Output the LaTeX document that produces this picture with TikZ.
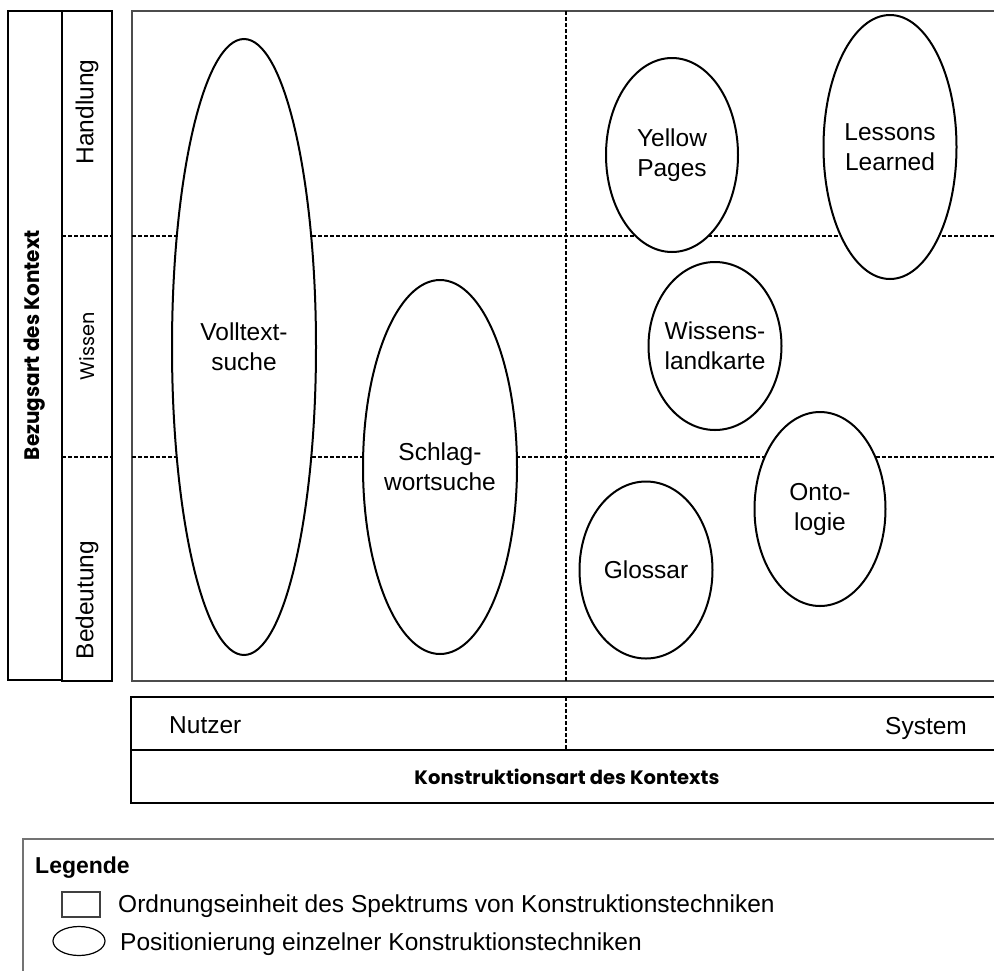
\documentclass[tikz,border=0pt]{standalone}
\usepackage{fontspec}
\usepackage{graphicx}
\setmainfont{Liberation Sans}
\newfontfamily\geo{Poppins}
\usetikzlibrary{shapes.geometric}
\begin{document}
\begin{tikzpicture}[x=1pt,y=-1pt,
  thickbox/.style={draw=black,line width=2pt},
  thinbox/.style={draw=black!70,line width=1.2pt},
  dashln/.style={draw=black,line width=2.6pt,dash pattern=on 4pt off 2pt},
  ell/.style={ellipse,draw=black,line width=2pt,fill=white,inner sep=0pt},
  lbl/.style={align=center,font=\fontsize{24.5}{30}\selectfont,inner sep=0pt},
  txt/.style={font=\fontsize{24.5}{30}\selectfont,inner sep=0pt},
]
\useasboundingbox (0,0) rectangle (994,970);
\clip (0,0) rectangle (994,970);

% left column
\draw[thickbox] (8,11) rectangle (62,680);
\draw[thickbox] (62,11) rectangle (112,681);
\draw[dashln] (62,236) -- (112,236);
\draw[dashln] (62,457) -- (112,457);
\node[rotate=90,inner sep=0pt] (bez) at (35,345) {\resizebox{230pt}{15.5pt}{\geo\bfseries Bezugsart des Kontext}};
\node[txt,rotate=90] (hand) at (87,112) {Handlung};
\node[rotate=90,inner sep=0pt] (wis) at (87,346) {\resizebox{68pt}{15pt}{\geo Wissen}};
\node[txt,rotate=90] (bed) at (87,600) {Bedeutung};

% main plot
\draw[thinbox] (1000,11) -- (132,11) -- (132,681) -- (1000,681);
\draw[dashln] (132,236) -- (1000,236);
\draw[dashln] (132,457) -- (1000,457);
\draw[dashln] (566,11) -- (566,681);

% ellipses
\node[ell,minimum width=144pt,minimum height=616pt] (vts) at (244,347) {};
\node[lbl] at (vts) {Volltext-\\suche};
\node[ell,minimum width=154pt,minimum height=374pt] (sws) at (440,467) {};
\node[lbl] at (sws) {Schlag-\\wortsuche};
\node[ell,minimum width=132pt,minimum height=194pt] (yp) at (672,155) {};
\node[lbl] at (yp) {Yellow\\Pages};
\node[ell,minimum width=133pt,minimum height=264pt] (ll) at (890,147) {};
\node[lbl] at (ll) {Lessons\\Learned};
\node[ell,minimum width=133pt,minimum height=168pt] (wlk) at (715,346) {};
\node[lbl] at (wlk) {Wissens-\\landkarte};
\node[ell,minimum width=131pt,minimum height=194pt] (onto) at (820,509) {};
\node[lbl] at (onto) {Onto-\\logie};
\node[ell,minimum width=133pt,minimum height=177pt] (glos) at (646,570) {};
\node[lbl] at (glos) {Glossar};

% bottom axis box
\draw[thickbox] (1000,697) -- (131,697) -- (131,803) -- (1000,803);
\draw[thickbox] (131,750) -- (1000,750);
\draw[dashln] (566,697) -- (566,750);
\node[txt,anchor=base west] (nutzer) at (169,733) {Nutzer};
\node[txt,anchor=base west] (system) at (885,734) {System};
\node[inner sep=0pt] (kons) at (567,777) {\resizebox{305pt}{15.5pt}{\geo\bfseries Konstruktionsart des Kontexts}};

% legend
\draw[draw=black!55,line width=1.5pt] (23,1000) -- (23,839) -- (1000,839);
\node[anchor=base west,inner sep=0pt,font=\bfseries\fontsize{23}{28}\selectfont] (leg) at (35,873) {Legende};
\draw[draw=black!75,line width=1.2pt] (62,892) rectangle (100,917);
\draw[draw=black,line width=1.2pt] (79,941) ellipse [x radius=26, y radius=14.5];
\node[txt,anchor=base west] (l1) at (118,912) {Ordnungseinheit des Spektrums von Konstruktionstechniken};
\node[txt,anchor=base west] (l2) at (120,950) {Positionierung einzelner Konstruktionstechniken};
\end{tikzpicture}
\end{document}
